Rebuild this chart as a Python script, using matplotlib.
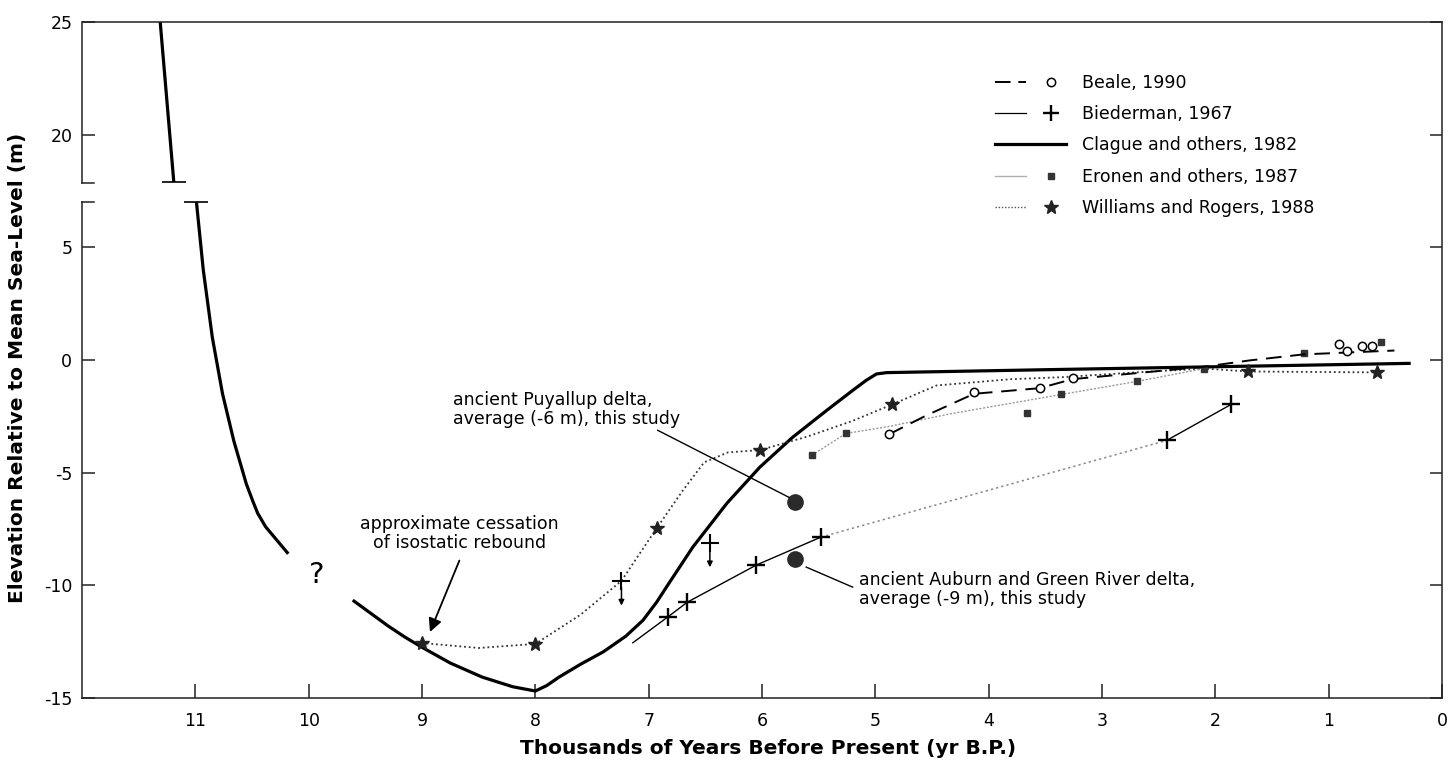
import matplotlib
matplotlib.use("Agg")
import matplotlib.pyplot as plt
import matplotlib.transforms as mtransforms
from matplotlib.lines import Line2D
from matplotlib.legend_handler import HandlerTuple

plt.rcParams['font.family'] = ['DejaVu Sans']

# ---------------- data (thousands of years B.P., metres) ----------------
x_ticks = [11, 10, 9, 8, 7, 6, 5, 4, 3, 2, 1, 0]
y_tick_values = [-15, -10, -5, 0, 5, 20, 25]

# Clague and others, 1982 (thick solid) -- three pieces
clague_top_x = [11.31, 11.19]
clague_top_y = [25.0, 17.9]
clague_mid_x = [10.99, 10.93, 10.85, 10.76, 10.66, 10.55, 10.49, 10.45, 10.38, 10.28, 10.18]
clague_mid_y = [7.0, 4.0, 1.0, -1.5, -3.6, -5.5, -6.3, -6.8, -7.4, -8.0, -8.6]
clague_low_x = [9.60, 9.45, 9.30, 9.15, 9.00, 8.75, 8.47, 8.20, 8.00, 7.90, 7.79, 7.60,
                7.40, 7.20, 7.05, 6.93, 6.82, 6.61, 6.31, 6.02, 5.73, 5.43, 5.20, 5.08,
                4.99, 4.90, 3.38, 0.29]
clague_low_y = [-10.7, -11.25, -11.8, -12.3, -12.75, -13.45, -14.07, -14.5, -14.69, -14.45,
                -14.07, -13.5, -12.95, -12.25, -11.55, -10.75, -9.9, -8.3, -6.36, -4.76,
                -3.43, -2.24, -1.35, -0.9, -0.62, -0.56, -0.42, -0.15]

# Williams and Rogers, 1988 (dotted, stars)
williams_line_x = [9.0, 8.5, 8.0, 7.6, 7.24, 6.93, 6.7, 6.51, 6.3, 6.02, 5.6, 5.2,
                   4.85, 4.46, 3.8, 3.38, 2.7, 2.1, 1.71, 0.57]
williams_line_y = [-12.56, -12.78, -12.6, -11.3, -9.8, -7.47, -5.8, -4.54, -4.1, -4.0,
                   -3.4, -2.7, -1.97, -1.13, -0.85, -0.77, -0.55, -0.38, -0.51, -0.55]
williams_pts_x = [9.0, 8.0, 6.93, 6.02, 4.85, 1.71, 0.57]
williams_pts_y = [-12.56, -12.6, -7.47, -4.0, -1.97, -0.51, -0.55]

# Biederman, 1967 (thin solid + crosses, dotted where inferred)
bied_solid1_x = [7.14, 6.83, 6.66, 6.05, 5.48]
bied_solid1_y = [-12.55, -11.4, -10.75, -9.1, -7.86]
bied_dotted_x = [5.48, 2.43]
bied_dotted_y = [-7.86, -3.57]
bied_solid2_x = [2.43, 1.86]
bied_solid2_y = [-3.57, -1.97]
bied_pts_x = [6.83, 6.66, 6.05, 5.48, 2.43, 1.86]
bied_pts_y = [-11.4, -10.75, -9.1, -7.86, -3.57, -1.97]
bied_limit_x = [7.24, 6.46]          # crosses with "below" arrows
bied_limit_y = [-9.8, -8.1]

# Beale, 1990 (dashed, open circles)
beale_line_x = [4.88, 4.55, 4.13, 3.55, 3.26, 2.1, 1.7, 1.22, 0.42]
beale_line_y = [-3.3, -2.46, -1.5, -1.25, -0.85, -0.3, -0.02, 0.25, 0.42]
beale_pts_x = [4.88, 4.13, 3.55, 3.26, 0.91, 0.84, 0.71, 0.62]
beale_pts_y = [-3.3, -1.44, -1.26, -0.82, 0.69, 0.42, 0.6, 0.6]

# Eronen and others, 1987 (light line, small squares)
eronen_line_x = [5.56, 5.26, 4.88, 4.35, 3.36, 2.69, 2.10]
eronen_line_y = [-4.23, -3.26, -2.95, -2.4, -1.53, -0.95, -0.38]
eronen_pts_x = [5.56, 5.26, 3.66, 3.36, 2.69, 2.10, 1.22, 0.54]
eronen_pts_y = [-4.23, -3.26, -2.33, -1.53, -0.95, -0.38, 0.29, 0.78]

# this study
study_x = [5.71, 5.71]
study_y = [-6.3, -8.85]

# ---------------- axis break mapping ----------------
BREAK_OFFSET = 10.0      # values above the break are drawn 10 m lower
LOWER_TOP = 7.02         # top of lower panel (plot coords)
UPPER_BOTTOM = 17.86     # bottom of upper panel (data)


def yp(vals):
    return [v - BREAK_OFFSET if v > 12 else v for v in vals]


W, H = 1448, 763
fig = plt.figure(figsize=(W / 100, H / 100), dpi=100)
ax = fig.add_axes([82 / W, 1 - 698 / H, (1442 - 82) / W, (698 - 22) / H])
ax.set_xlim(12, 0)
ax.set_ylim(-15, 14.95)

FS = 12.5
# --- curves ---
ax.plot(clague_top_x, yp(clague_top_y), color='black', lw=2.3, solid_capstyle='butt')
ax.plot(clague_mid_x, yp(clague_mid_y), color='black', lw=2.3, solid_capstyle='butt',
        solid_joinstyle='round')
ax.plot(clague_low_x, yp(clague_low_y), color='black', lw=2.3, solid_joinstyle='round')
# break bars on the curve
ax.plot([clague_top_x[-1]], yp([clague_top_y[-1]]), marker='_', ms=17, mew=1.2, color='black')
ax.plot([clague_mid_x[0]], yp([clague_mid_y[0]]), marker='_', ms=17, mew=1.2, color='black')

ax.plot(williams_line_x, williams_line_y, color='#333333', lw=1.3, ls=(0, (1, 1.6)))
ax.plot(williams_pts_x, williams_pts_y, ls='none', marker='*', ms=10, color='#222222',
        mec='#222222')

ax.plot(eronen_line_x, eronen_line_y, color='#9a9a9a', lw=1.0, ls=(0, (1.5, 1.2)))
ax.plot(eronen_pts_x, eronen_pts_y, ls='none', marker='s', ms=4.5, color='#333333')

ax.plot(beale_line_x, beale_line_y, color='black', lw=1.4, ls=(0, (8, 4.5)))
ax.plot(beale_pts_x, beale_pts_y, ls='none', marker='o', ms=6, mfc='white', mec='black',
        mew=1.1)

ax.plot(bied_solid1_x, bied_solid1_y, color='black', lw=1.0)
ax.plot(bied_dotted_x, bied_dotted_y, color='#8a8a8a', lw=1.1, ls=(0, (1.5, 2)))
ax.plot(bied_solid2_x, bied_solid2_y, color='black', lw=1.0)
ax.plot(bied_pts_x, bied_pts_y, ls='none', marker='+', ms=13, mew=1.7, color='black')
ax.plot(bied_limit_x, bied_limit_y, ls='none', marker='+', ms=13, mew=1.5, color='black')
for bx, by in zip(bied_limit_x, bied_limit_y):
    ax.annotate('', xy=(bx, by - 1.1), xytext=(bx, by - 0.3),
                arrowprops=dict(arrowstyle='-|>', mutation_scale=8, lw=1.1, color='black',
                                shrinkA=0, shrinkB=0))

ax.plot(study_x, study_y, ls='none', marker='o', ms=11, color='#2a2a2a')

# --- annotations ---
ax.text(9.93, -9.55, '?', fontsize=21, ha='center', va='center')
ax.text(8.67, -7.69, 'approximate cessation\nof isostatic rebound', fontsize=FS,
        ha='center', va='center', linespacing=1.05)
ax.annotate('', xy=(8.93, -12.07), xytext=(8.67, -8.9),
            arrowprops=dict(arrowstyle='-|>', mutation_scale=20, lw=1.3, color='black',
                            shrinkA=0, shrinkB=0))
ax.text(8.73, -2.19, 'ancient Puyallup delta,\naverage (-6 m), this study', fontsize=FS,
        ha='left', va='center', linespacing=1.05)
ax.plot([6.92, 5.76], [-3.12, -6.1], color='black', lw=1.0)
ax.text(5.14, -10.2, 'ancient Auburn and Green River delta,\naverage (-9 m), this study',
        fontsize=FS, ha='left', va='center', linespacing=1.05)
ax.plot([5.61, 5.20], [-9.19, -10.08], color='black', lw=1.0)

# --- spines / ticks ---
ax.spines['left'].set_visible(False)
for s in ['top', 'right', 'bottom']:
    ax.spines[s].set_linewidth(1.1)
    ax.spines[s].set_color('#222222')
blend = mtransforms.blended_transform_factory(ax.transAxes, ax.transData)
ax.plot([0, 0], [-15, LOWER_TOP], transform=blend, color='#222222', lw=1.1, clip_on=False)
ax.plot([0, 0], [UPPER_BOTTOM - BREAK_OFFSET, 14.95], transform=blend, color='#222222',
        lw=1.1, clip_on=False)
ax.plot([0, 0.009], [LOWER_TOP, LOWER_TOP], transform=blend, color='#222222', lw=1.1,
        clip_on=False)
ax.plot([0, 0.009], [UPPER_BOTTOM - BREAK_OFFSET] * 2, transform=blend, color='#222222',
        lw=1.1, clip_on=False)

ax.set_xticks(x_ticks)
ax.set_xticklabels([str(t) for t in x_ticks])
ax.set_yticks(yp(y_tick_values))
ax.set_yticklabels([str(v) for v in y_tick_values])
ax.tick_params(axis='x', direction='in', length=10, width=1.1, pad=10, labelsize=FS,
               top=False, color='#222222')
ax.tick_params(axis='y', direction='in', length=9, width=1.1, pad=7, labelsize=FS,
               left=True, right=True, color='#222222')

fig.text(18 / W, 1 - 368 / H, 'Elevation Relative to Mean Sea-Level (m)', rotation=90,
         ha='center', va='center', fontsize=14.5, fontweight='bold')
fig.text(768 / W, 1 - 748 / H, 'Thousands of Years Before Present (yr B.P.)',
         ha='center', va='center', fontsize=14.5, fontweight='bold')

# --- legend ---
h_beale = (Line2D([], [], color='black', lw=1.4, ls=(0, (8, 4))),
           Line2D([], [], ls='none', marker='o', ms=6, mfc='white', mec='black', mew=1.1))
h_bied = (Line2D([], [], color='black', lw=0.9),
          Line2D([], [], ls='none', marker='+', ms=12, mew=1.7, color='black'))
h_clague = Line2D([], [], color='black', lw=2.3)
h_eronen = (Line2D([], [], color='#b0b0b0', lw=1.0),
            Line2D([], [], ls='none', marker='s', ms=4.5, color='#333333'))
h_will = (Line2D([], [], color='#555555', lw=1.0, ls=(0, (1, 1.3))),
          Line2D([], [], ls='none', marker='*', ms=10, color='#222222'))
leg = ax.legend([h_beale, h_bied, h_clague, h_eronen, h_will],
                ['Beale, 1990', 'Biederman, 1967', 'Clague and others, 1982',
                 'Eronen and others, 1987', 'Williams and Rogers, 1988'],
                handler_map={tuple: HandlerTuple(ndivide=None, pad=0.5)},
                loc='upper left', bbox_to_anchor=(995 / W, 1 - 74 / H),
                bbox_transform=fig.transFigure, frameon=False, fontsize=FS,
                borderpad=0, borderaxespad=0, handlelength=4.1, handletextpad=0.9,
                labelspacing=0.76)

fig.savefig('out.png', dpi=100, facecolor='white')
